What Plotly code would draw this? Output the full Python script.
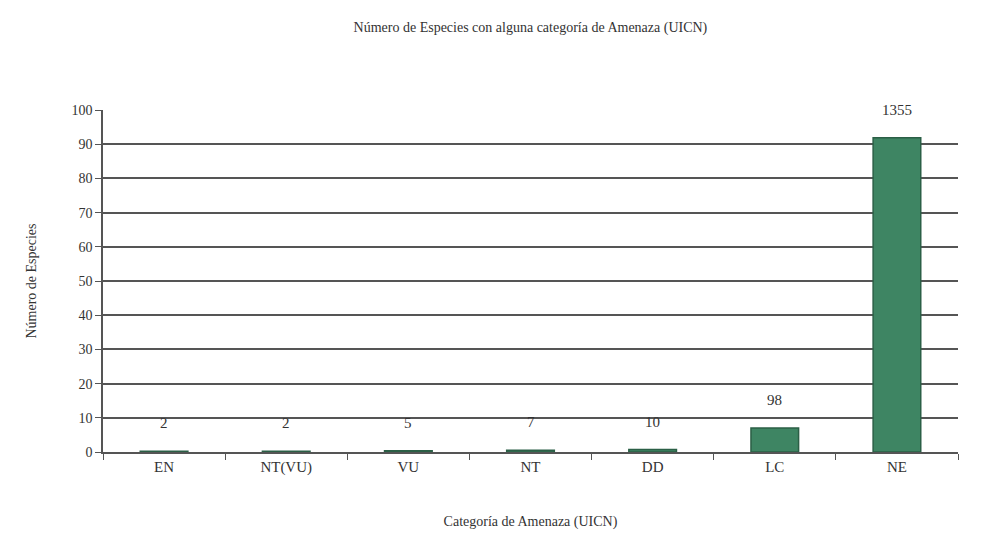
import plotly.graph_objects as go

categories = ["EN", "NT(VU)", "VU", "NT", "DD", "LC", "NE"]
bar_heights = [0.2, 0.2, 0.4, 0.5, 0.7, 7.0, 91.9]
count_labels = ["2", "2", "5", "7", "10", "98", "1355"]
y_ticks = [0, 10, 20, 30, 40, 50, 60, 70, 80, 90, 100]

font_family = "Liberation Serif, Times New Roman, serif"

fig = go.Figure()
fig.add_trace(go.Bar(
    x=categories, y=bar_heights,
    marker=dict(color="#3e8563", line=dict(color="#2b5f46", width=1.5)),
    width=0.39,
    showlegend=False,
))

for c, h, t in zip(categories, bar_heights, count_labels):
    fig.add_annotation(x=c, y=h, text=t, showarrow=False, yanchor="middle",
                       yshift=28, font=dict(family=font_family, size=15, color="#333"))

fig.update_layout(
    width=982, height=537,
    paper_bgcolor="white", plot_bgcolor="white",
    margin=dict(l=95, r=32, t=102, b=93, autoexpand=False),
    font=dict(family=font_family, color="#333"),
    title=dict(text="Número de Especies con alguna categoría de Amenaza (UICN)",
               x=0.532, xanchor="center", y=0.965, yanchor="middle",
               font=dict(family=font_family, size=14, color="#333")),
    bargap=0.6,
)
fig.update_xaxes(
    type="category", range=[-0.5, 6.5], automargin=False,
    showline=True, linecolor="#555", linewidth=1.5,
    ticks="outside", tickson="boundaries", ticklen=6, tickcolor="#555",
    tickfont=dict(family=font_family, size=15, color="#333"),
    title=dict(text="Categoría de Amenaza (UICN)", standoff=41,
               font=dict(family=font_family, size=14, color="#333")),
    showgrid=False,
)
fig.update_yaxes(
    range=[0, 100], tickvals=y_ticks, automargin=False,
    showline=True, linecolor="#555", linewidth=1.5,
    ticks="outside", ticklen=6, tickcolor="#555",
    showgrid=True, gridcolor="#555", gridwidth=1.5,
    zeroline=False,
    tickfont=dict(family=font_family, size=14, color="#333"),
    title=dict(text="Número de Especies", standoff=32,
               font=dict(family=font_family, size=14, color="#333")),
)

fig.write_html("out.html")
